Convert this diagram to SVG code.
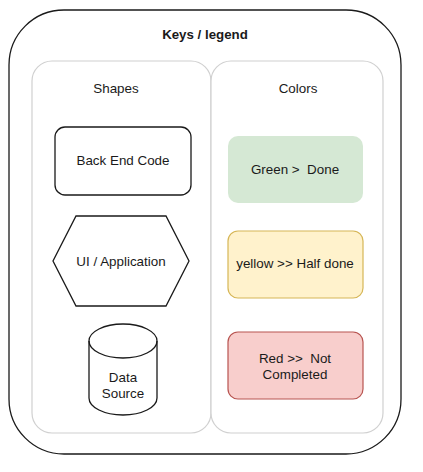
<svg xmlns="http://www.w3.org/2000/svg" width="423" height="472" viewBox="0 0 423 472">
<style>
text{font-family:"Liberation Sans",Arial,sans-serif;font-size:13.4px;fill:#1a1a1a;text-anchor:middle}
.title{font-weight:bold;font-size:13.3px}
.panel{fill:#fff;stroke:#d0d0d0;stroke-width:1.2}
.shape{fill:#fff;stroke:#1a1a1a;stroke-width:1.3}
</style>
<rect width="423" height="472" fill="#fff"/>
<g id="legend">
<rect x="9" y="10" width="392" height="444" rx="55" ry="55" fill="#fff" stroke="#1a1a1a" stroke-width="1.3"/>
<text class="title" x="205" y="39">Keys / legend</text>
</g>
<g id="shapes-panel">
<rect class="panel" x="32" y="61" width="179" height="372" rx="20" ry="20"/>
<text x="116" y="93">Shapes</text>
</g>
<g id="colors-panel">
<rect class="panel" x="211" y="61" width="172" height="372" rx="20" ry="20"/>
<text x="298" y="93">Colors</text>
</g>
<g id="back-end-code">
<rect class="shape" x="55" y="127" width="136" height="68" rx="10" ry="10"/>
<text x="123" y="165">Back End Code</text>
</g>
<g id="ui-application">
<polygon class="shape" points="76,216 166,216 189,261 166,306 76,306 53,261"/>
<text x="121" y="266">UI / Application</text>
</g>
<g id="data-source">
<path class="shape" d="M89,341 A34,17 0 0 1 157,341 L157,398 A34,17 0 0 1 89,398 Z"/>
<path d="M89,341 A34,17 0 0 0 157,341" fill="none" stroke="#1a1a1a" stroke-width="1.3"/>
<text x="123" y="382">Data</text>
<text x="123" y="398">Source</text>
</g>
<g id="green-done">
<rect x="228" y="136" width="135" height="67" rx="10" ry="10" fill="#d5e8d4"/>
<text x="295" y="174" xml:space="preserve">Green &gt;  Done</text>
</g>
<g id="yellow-half-done">
<rect x="228" y="231" width="135" height="67" rx="10" ry="10" fill="#fff2cc" stroke="#d6b656" stroke-width="1.2"/>
<text x="295" y="268">yellow &gt;&gt; Half done</text>
</g>
<g id="red-not-completed">
<rect x="228" y="332" width="135" height="67" rx="10" ry="10" fill="#f8cecc" stroke="#b85450" stroke-width="1.2"/>
<text x="295" y="363" xml:space="preserve">Red &gt;&gt;  Not</text>
<text x="295" y="379">Completed</text>
</g>
<g id="connectors"/>
</svg>
